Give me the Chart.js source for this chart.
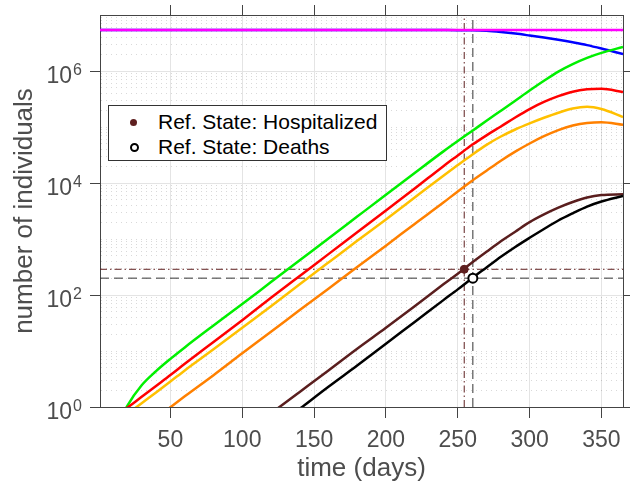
<!DOCTYPE html>
<html>
<head>
<meta charset="utf-8">
<script src="https://cdn.jsdelivr.net/npm/chart.js@4/dist/chart.umd.min.js"></script>
<style>
  html, body { margin: 0; padding: 0; background: #fff; }
  #wrap { position: relative; width: 630px; height: 488px; }
  #legend {
    position: absolute; left: 108px; top: 105px; width: 279px; height: 56px;
    box-sizing: border-box; border: 1px solid #333; background: #fff;
    font-family: "Liberation Sans", Arial, sans-serif; font-size: 21px; color: #000;
  }
  .item { position: absolute; left: 0; white-space: nowrap; }
  .mk { position: absolute; border-radius: 50%; box-sizing: border-box; }
  .txt { position: absolute; left: 49px; line-height: 24px; top: -12px; }
</style>
</head>
<body>
<div id="wrap">
  <canvas id="chart" width="630" height="488"></canvas>
  <div id="legend"></div>
</div>
<script>
// time grid (days) and curves
const days = [0, 10, 20, 30, 40, 50, 60, 80, 100, 120, 140, 160, 180, 200, 220, 240, 250, 260, 270, 280, 290, 300, 310, 320, 330, 340, 350, 365];

const population = [5.37e6, 5.37e6, 5.37e6, 5.37e6, 5.37e6, 5.37e6, 5.37e6, 5.37e6, 5.37e6, 5.37e6, 5.37e6, 5.37e6, 5.37e6, 5.37e6,
  5.37e6, 5.37e6, 5.37e6, 5.37e6, 5.37e6, 5.37e6, 5.37e6, 5.37e6, 5.37e6, 5.37e6, 5.37e6, 5.37e6, 5.37e6, 5.37e6];
const susceptible = [5.37e6, 5.37e6, 5.37e6, 5.37e6, 5.37e6, 5.37e6, 5.37e6, 5.37e6, 5.37e6, 5.37e6, 5.37e6, 5.37e6, 5.37e6, 5.37e6,
  5.37e6, 5.37e6, 5.36e6, 5.33e6, 5.22e6, 4.97e6, 4.66e6, 4.3e6, 3.95e6, 3.6e6, 3.25e6, 2.9e6, 2.52e6, 2.0e6];
const exposed = [null, 0.3, 1.05, 2.45, 4.37, 7.24, 11.6, 28.5, 69, 170, 417, 1020, 2510, 6170,
  15100, 36700, 56200, 85100, 129000, 195000, 295000, 447000, 668000, 977000, 1330000, 1720000, 2110000, 2690000];
const infected = [0.39, 0.62, 0.97, 1.52, 2.38, 3.72, 5.9, 14.5, 35.5, 89, 219, 537, 1320, 3240,
  7940, 20000, 31000, 48000, 71000, 102000, 148000, 209000, 280000, 355000, 427000, 470000, 480000, 420000];
const mild = [0.31, 0.48, 0.75, 1.17, 1.82, 2.85, 4.5, 10.7, 26, 63, 155, 380, 930, 2240,
  5500, 13500, 20900, 32000, 47900, 67600, 90200, 116000, 146000, 180000, 214000, 229000, 209000, 151000];
const severe = [0.11, 0.17, 0.26, 0.41, 0.63, 0.99, 1.55, 3.7, 9.1, 22, 54, 129, 316, 760,
  1860, 4470, 7080, 11000, 16600, 25000, 36300, 50700, 68400, 88100, 106000, 118000, 122000, 110000];
const hospitalized = [null, null, null, null, null, null, null, 0.13, 0.32, 0.77, 1.86, 4.5, 11, 26,
  63, 155, 240, 380, 590, 910, 1350, 2000, 2750, 3630, 4570, 5500, 6100, 6300];
const deaths = [null, null, null, null, null, null, null, null, 0.155, 0.38, 0.93, 2.3, 5.5, 13.5,
  33, 81, 126, 200, 310, 480, 720, 1050, 1510, 2140, 2880, 3800, 4680, 5890];

// reference state markers
const refLabels = ["Ref. State: Hospitalized", "Ref. State: Deaths"];
const refDays = [254.5, 260.5];
const refValues = [288, 200];

// axes
const xRange = [1, 365];
const yRange = [1, 1e7];
const xTicks = [50, 100, 150, 200, 250, 300, 350];
const yLabelExps = [0, 2, 4, 6];

const textColor = "#4d4d4d";
const axisColor = "#444";
const hospColor = "#5e1f1f";
const fontFam = '"Liberation Sans", Arial, sans-serif';

function serie(values) {
  return days.map((d, i) => ({ x: d, y: values[i] }));
}

function isLabelTick(v) {
  return yLabelExps.some(e => Math.abs(v - Math.pow(10, e)) < 1e-9 * Math.pow(10, e));
}

function curva(label, values, color) {
  return { label, data: serie(values), borderColor: color, borderWidth: 2.5, pointRadius: 0,
           cubicInterpolationMode: "monotone", clip: 0, fill: false };
}

function refLine(points, color, dash) {
  return { label: "", data: points, borderColor: color, borderWidth: 1, borderDash: dash,
           pointRadius: 0, clip: 0, fill: false };
}

const datasets = [
  { label: refLabels[0], data: [{ x: refDays[0], y: refValues[0] }], showLine: false,
    pointRadius: 4, pointBackgroundColor: hospColor, pointBorderColor: hospColor, pointBorderWidth: 1 },
  { label: refLabels[1], data: [{ x: refDays[1], y: refValues[1] }], showLine: false,
    pointRadius: 4.5, pointBackgroundColor: "#fff", pointBorderColor: "#000", pointBorderWidth: 2 },
  curva("Population", population, "#ff00ff"),
  curva("Deaths", deaths, "#000000"),
  curva("Hospitalized", hospitalized, "#5a1e1e"),
  curva("Severe", severe, "#ff8000"),
  curva("Mild", mild, "#ffc000"),
  curva("Infected", infected, "#ff0000"),
  curva("Exposed", exposed, "#00f000"),
  curva("Susceptible", susceptible, "#0000ff"),
  refLine([{ x: refDays[0], y: yRange[0] }, { x: refDays[0], y: yRange[1] }], hospColor, [7, 3, 1.5, 3]),
  refLine([{ x: xRange[0], y: refValues[0] }, { x: xRange[1], y: refValues[0] }], hospColor, [7, 3, 1.5, 3]),
  refLine([{ x: refDays[1], y: yRange[0] }, { x: refDays[1], y: yRange[1] }], "#333", [9, 5]),
  refLine([{ x: xRange[0], y: refValues[1] }, { x: xRange[1], y: refValues[1] }], "#333", [9, 5])
];

function logTicks(scale) {
  const t = [];
  for (let e = 0; e < 7; e++) {
    for (let m = 1; m < 10; m++) t.push({ value: m * Math.pow(10, e) });
  }
  t.push({ value: 1e7 });
  scale.ticks = t;
}

const yLabelPlugin = {
  id: "yLabels",
  afterDraw(chart) {
    const ctx = chart.ctx;
    const y = chart.scales.y;
    ctx.save();
    ctx.fillStyle = textColor;
    ctx.textBaseline = "alphabetic";
    yLabelExps.forEach(e => {
      const py = y.getPixelForValue(Math.pow(10, e));
      ctx.font = "23px " + fontFam;
      ctx.textAlign = "right";
      ctx.fillText("10", y.right - 28, py + 12);
      ctx.font = "16px " + fontFam;
      ctx.textAlign = "left";
      ctx.fillText(String(e), y.right - 27, py + 3.5);
    });
    ctx.restore();
  }
};

const chart = new Chart(document.getElementById("chart"), {
  type: "line",
  data: { datasets },
  plugins: [yLabelPlugin],
  options: {
    responsive: false,
    animation: false,
    devicePixelRatio: 1,
    layout: { padding: 0 },
    plugins: { legend: { display: false }, tooltip: { enabled: false } },
    scales: {
      x: {
        type: "linear", position: "bottom", min: xRange[0], max: xRange[1],
        afterBuildTicks: s => { s.ticks = xTicks.map(v => ({ value: v })); },
        afterFit: s => { s.height = 81; },
        grid: { color: "#e4e4e4", lineWidth: 1, tickLength: 11, tickColor: axisColor },
        border: { color: axisColor, width: 1 },
        ticks: { autoSkip: false, maxRotation: 0, padding: 9, color: textColor,
                 font: { family: fontFam, size: 23 } },
        title: { display: true, text: "time (days)", color: textColor,
                 font: { family: fontFam, size: 26 }, padding: { top: 0, bottom: 4 } }
      },
      x2: {
        type: "linear", position: "top", min: xRange[0], max: xRange[1],
        afterBuildTicks: s => { s.ticks = xTicks.map(v => ({ value: v })); },
        afterFit: s => { s.height = 15; },
        grid: { drawOnChartArea: false, tickLength: 10, tickColor: axisColor },
        border: { color: axisColor, width: 1 },
        ticks: { display: false }
      },
      y: {
        type: "logarithmic", position: "left", min: yRange[0], max: yRange[1],
        afterBuildTicks: logTicks,
        afterFit: s => { s.width = 100; },
        grid: {
          lineWidth: 1, tickLength: 10,
          color: c => (c.tick && isLabelTick(c.tick.value)) ? "#e4e4e4" : "rgba(0,0,0,0.15)",
          tickColor: c => (c.tick && isLabelTick(c.tick.value)) ? axisColor : "rgba(0,0,0,0)"
        },
        border: { color: axisColor, width: 1,
                  dash: c => (c.tick && !isLabelTick(c.tick.value)) ? [1, 4] : [] },
        ticks: { display: false },
        title: { display: true, text: "number of individuals", color: textColor,
                 font: { family: fontFam, size: 26 }, padding: { top: 9, bottom: 0 } }
      },
      y2: {
        type: "logarithmic", position: "right", min: yRange[0], max: yRange[1],
        afterBuildTicks: logTicks,
        afterFit: s => { s.width = 7; },
        grid: { drawOnChartArea: false, tickLength: 10,
                tickColor: c => (c.tick && isLabelTick(c.tick.value)) ? axisColor : "rgba(0,0,0,0)" },
        border: { color: axisColor, width: 1 },
        ticks: { display: false }
      }
    }
  }
});

// legend box inside the axes, built from the two marker datasets
function montarLegenda() {
  const box = document.getElementById("legend");
  box.innerHTML = "";
  const rows = [16, 41];
  [0, 1].forEach(i => {
    const ds = chart.data.datasets[i];
    const item = document.createElement("div");
    item.className = "item";
    item.style.top = rows[i] + "px";
    const mk = document.createElement("div");
    mk.className = "mk";
    if (i === 0) {
      mk.style.width = "7px"; mk.style.height = "7px";
      mk.style.left = "21px"; mk.style.top = "-3.5px";
      mk.style.background = ds.pointBackgroundColor;
    } else {
      mk.style.width = "9px"; mk.style.height = "9px";
      mk.style.left = "20.5px"; mk.style.top = "-4.5px";
      mk.style.border = "2px solid " + ds.pointBorderColor;
      mk.style.background = "#fff";
    }
    const txt = document.createElement("span");
    txt.className = "txt";
    txt.textContent = ds.label;
    item.appendChild(mk);
    item.appendChild(txt);
    box.appendChild(item);
  });
}
montarLegenda();
</script>
</body>
</html>
